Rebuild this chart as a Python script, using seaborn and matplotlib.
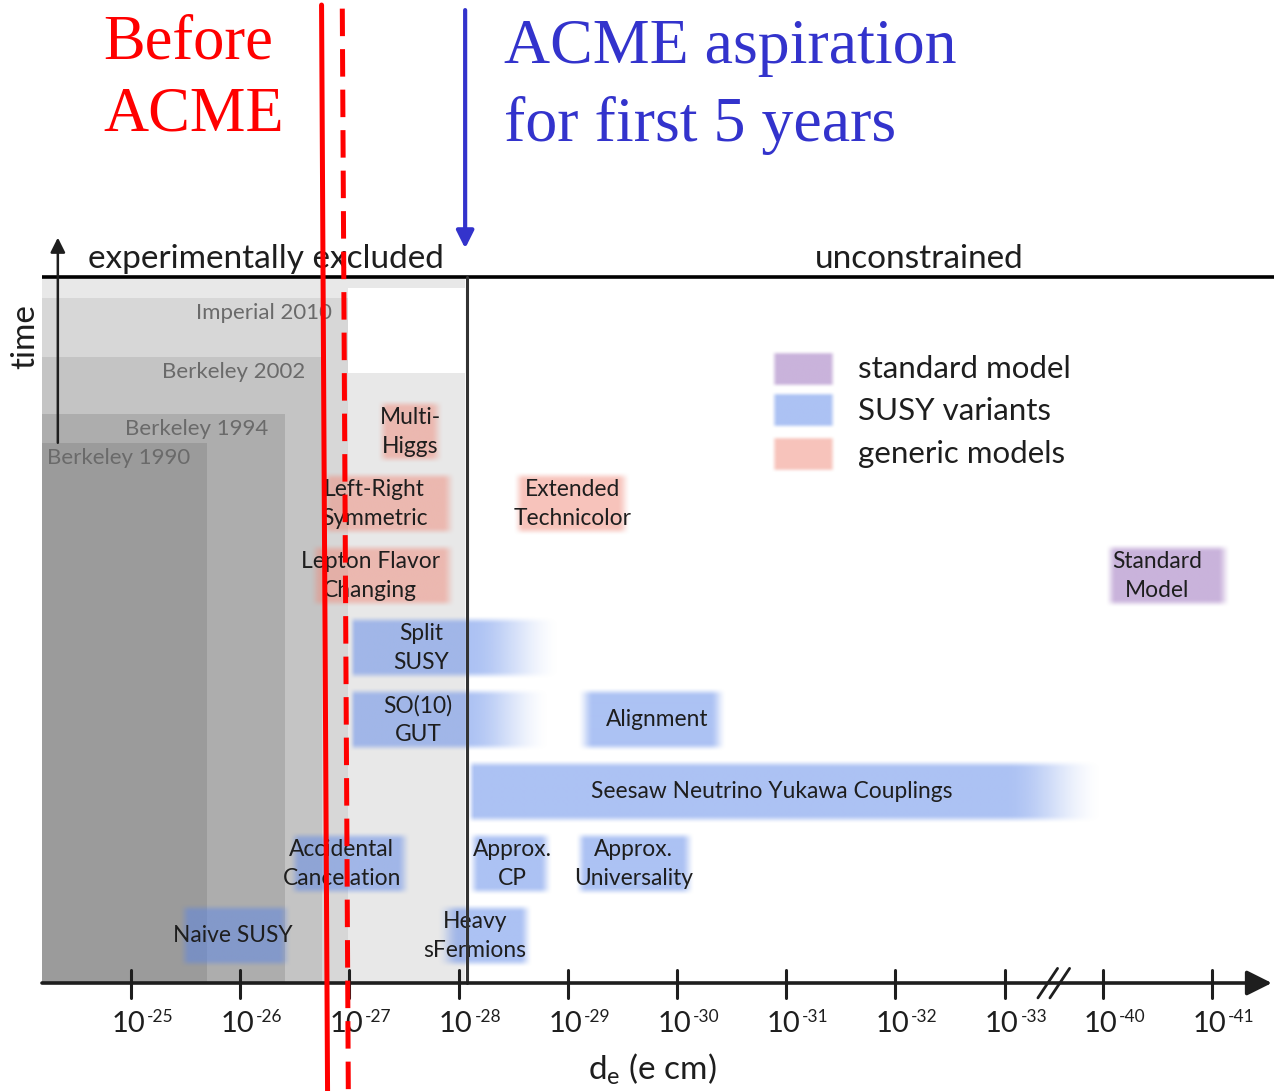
import numpy as np
import matplotlib
matplotlib.use("Agg")
import matplotlib.pyplot as plt
import matplotlib.colors as mcolors
import seaborn as sns

# ---------------- data ----------------
# experimental limits on d_e, as -log10(d_e / e cm)
exp_names = ["Berkeley 1990", "Berkeley 1994", "Berkeley 2002", "Imperial 2010"]
exp_limits = [25.70, 26.41, 26.75, 26.99]
exp_row_top = [6.85, 7.25, 8.04, 8.86]          # "time" rows
acme_goal = 28.06                                  # ACME aspiration

before_acme_solid = [26.745, 26.80]               # top / bottom of drawn line
before_acme_dashed = [26.935, 26.99]

model_names = ["Multi-\nHiggs", "Left-Right\nSymmetric", "Lepton Flavor\nChanging",
               "Extended\nTechnicolor", "Split\nSUSY", "SO(10)\nGUT", "Alignment",
               "Seesaw Neutrino Yukawa Couplings", "Accidental\nCancelation",
               "Approx.\nCP", "Approx.\nUniversality", "Naive SUSY",
               "Heavy\nsFermions", "Standard\nModel"]
model_class = ["generic", "generic", "generic", "generic", "susy", "susy", "susy",
               "susy", "susy", "susy", "susy", "susy", "susy", "sm"]
model_row = [7, 6, 5, 6, 4, 3, 3, 2, 1, 1, 1, 0, 0, 5]
model_lo = [27.25, 26.74, 26.64, 28.50, 27.00, 27.00, 29.08, 28.08, 26.45,
            28.09, 29.07, 25.44, 27.80, 40.02]
model_hi = [27.86, 27.97, 27.97, 29.58, 28.95, 28.85, 30.45, 33.92, 27.56,
            28.86, 30.16, 26.47, 28.67, 41.17]
model_label_x = [27.56, 27.23, 27.19, 29.04, 27.66, 27.63, 29.82, 30.87, 26.93,
                 28.49, 29.60, 25.93, 28.15, 40.50]

legend_classes = ["sm", "susy", "generic"]
legend_labels = ["standard model", "SUSY variants", "generic models"]

tick_exponents = [25, 26, 27, 28, 29, 30, 31, 32, 33, 40, 41]

# ---------------- styling ----------------
sns.set_theme(style="white")
plt.rcParams["font.family"] = ["Lato", "DejaVu Sans"]
plt.rcParams["mathtext.fontset"] = "custom"
plt.rcParams["mathtext.rm"] = "Lato"
plt.rcParams["mathtext.it"] = "Lato:italic"
plt.rcParams["mathtext.bf"] = "Lato:bold"

class_color = {"generic": "#f08878", "susy": "#5a85e8", "sm": "#9467b8"}
box_fade = {"Split\nSUSY": (0.06, 0.85), "SO(10)\nGUT": (0.06, 0.8),
            "Seesaw Neutrino Yukawa Couplings": (0.06, 0.9),
            "Heavy\nsFermions": (0.2, 0.12), "Alignment": (0.15, 0.15)}

BREAK_LO, BREAK_POS = 33, 8.9      # axis break: 10^-40 drawn at position 8.9
INK = "#1e1e1e"


def xpos(e):
    e = np.asarray(e, dtype=float)
    return np.where(e <= 34, e - 25, e - 40 + BREAK_POS)


def smooth(t):
    t = np.clip(t, 0, 1)
    return t * t * (3 - 2 * t)


def soft_box(ax, x0, x1, y0, y1, color, alpha=0.5, fl=0.1, fr=0.1, fy=0.1, z=2):
    nx, ny = 300, 60
    xs = np.linspace(x0, x1, nx)
    ys = np.linspace(y0, y1, ny)
    ax_ = smooth((xs - x0) / fl) * smooth((x1 - xs) / fr)
    ay_ = smooth((ys - y0) / fy) * smooth((y1 - ys) / fy)
    img = np.zeros((ny, nx, 4))
    img[..., :3] = mcolors.to_rgb(color)
    img[..., 3] = alpha * np.outer(ay_, ax_)
    ax.imshow(img, extent=[x0, x1, y0, y1], origin="lower", aspect="auto",
              interpolation="bilinear", zorder=z)


fig = plt.figure(figsize=(12.74, 10.91), dpi=100)
ax = fig.add_axes([0, 0, 1, 1])
ax.set_axis_off()

Y_AX, Y_TOP = -0.653, 9.153
X_LEFT = float(xpos(24.185))
X_RIGHT = 10.467

# ---------------- excluded regions ----------------
ax.fill_between([X_LEFT, float(xpos(acme_goal))], Y_AX, Y_TOP, color="#e8e8e8", lw=0, zorder=1)
ax.fill_between([float(xpos(exp_limits[3])), float(xpos(acme_goal))], 7.82, 9.0,
                color="white", lw=0, zorder=1.1)
gray_cols = ["#9b9b9b", "#adadad", "#c4c4c4", "#d7d7d7"]
for i in [3, 2, 1, 0]:
    ax.fill_between([X_LEFT, float(xpos(exp_limits[i]))], Y_AX, exp_row_top[i],
                    color=gray_cols[i], lw=0, zorder=1.2 + (3 - i) * 0.1)
for i, name in enumerate(exp_names):
    if i == 0:
        ax.text(X_LEFT + 0.05, exp_row_top[i] - 0.21, name, ha="left", va="center",
                fontsize=16, color="#6a6a6a", zorder=3)
    else:
        ax.text(float(xpos(exp_limits[i])) - 0.15, exp_row_top[i] - 0.21, name,
                ha="right", va="center", fontsize=16, color="#6a6a6a", zorder=3)

# ---------------- model boxes ----------------
for name, cls, row, lo, hi, lx in zip(model_names, model_class, model_row,
                                        model_lo, model_hi, model_label_x):
    fl, fr = box_fade.get(name, (0.1, 0.12))
    soft_box(ax, float(xpos(lo)), float(xpos(hi)), row - 0.45, row + 0.45,
             class_color[cls], alpha=0.5, fl=fl, fr=fr, fy=0.12)
    ax.text(float(xpos(lx)), row, name, ha="center", va="center", fontsize=16.4,
            color=INK, linespacing=1.42, zorder=3)

# ---------------- legend ----------------
leg_y = [7.875, 7.295, 6.695]
for cls, lab, yy in zip(legend_classes, legend_labels, leg_y):
    soft_box(ax, float(xpos(30.86)), float(xpos(31.45)), yy - 0.26, yy + 0.26,
             class_color[cls], alpha=0.5, fl=0.06, fr=0.06, fy=0.08)
    ax.text(float(xpos(31.66)), yy, lab, ha="left", va="center", fontsize=22.5,
            color=INK, zorder=3)

# ---------------- frame lines ----------------
ax.plot([X_LEFT, X_RIGHT], [Y_TOP, Y_TOP], color="black", lw=2.6, zorder=4,
        solid_capstyle="butt")
ax.plot([float(xpos(acme_goal)) + 0.02] * 2, [Y_AX, Y_TOP], color="#333333", lw=2.2, zorder=4)
ax.text(X_LEFT + 0.42, Y_TOP + 0.25, "experimentally excluded", ha="left", va="center",
        fontsize=24, color=INK, zorder=4)
ax.text(float(xpos(32.22)), Y_TOP + 0.25, "unconstrained", ha="center", va="center",
        fontsize=24, color=INK, zorder=4)

# time arrow
ax.annotate("", xy=(float(xpos(24.33)), 9.70), xytext=(float(xpos(24.33)), 6.85),
            arrowprops=dict(arrowstyle="-|>", color=INK, lw=1.8,
                            mutation_scale=22, shrinkA=0, shrinkB=0), zorder=4)
ax.text(float(xpos(24.03)), 8.32, "time", rotation=90, ha="center", va="center",
        fontsize=24, color=INK)

# x axis with arrow
ax.annotate("", xy=(X_RIGHT - 0.02, Y_AX), xytext=(X_LEFT, Y_AX),
            arrowprops=dict(arrowstyle="-|>", color=INK, lw=2.6,
                            mutation_scale=38, shrinkA=0, shrinkB=0), zorder=4)
for e in tick_exponents:
    xp = float(xpos(e))
    ax.plot([xp, xp], [-0.86, -0.47], color=INK, lw=2.2, zorder=4)
    ax.text(xp + 0.13, -1.333, "10", ha="right", va="baseline",
            fontsize=21, color=INK, zorder=4)
    ax.text(xp + 0.145, -1.19, "-%d" % e, ha="left", va="baseline",
            fontsize=12.5, color=INK, zorder=4)
bx = (float(xpos(BREAK_LO)) + BREAK_POS) / 2
for dx in (-0.055, 0.055):
    ax.plot([bx + dx - 0.09, bx + dx + 0.09], [-0.86, -0.45], color=INK, lw=2.0, zorder=4.5)
ax.text(float(xpos(29.77)), -1.86, r"d$_\mathregular{e}$ (e cm)", ha="center", va="center",
        fontsize=24, color=INK)

# ---------------- ACME annotations ----------------
Y_BOT, Y_FIG_TOP = -2.153, 12.93
ax.plot(xpos(before_acme_solid), [Y_FIG_TOP, Y_BOT], color="red", lw=3.6, zorder=6)
ax.plot(xpos(before_acme_dashed), [Y_FIG_TOP - 0.05, Y_BOT], color="red", lw=3.6,
        dashes=(5.5, 2.6), zorder=6)
ax.annotate("", xy=(float(xpos(acme_goal)), 9.55), xytext=(float(xpos(acme_goal)), 12.86),
            arrowprops=dict(arrowstyle="-|>", color="#3333cc", lw=3.0,
                            mutation_scale=26, shrinkA=0, shrinkB=0), zorder=6)
serif = ["Liberation Serif", "DejaVu Serif"]
ax.text(float(xpos(24.745)), 12.40, "Before", ha="left", va="center", fontsize=45,
        color="red", family=serif)
ax.text(float(xpos(24.745)), 11.40, "ACME", ha="left", va="center", fontsize=45,
        color="red", family=serif)
ax.text(float(xpos(28.42)), 12.33, "ACME aspiration", ha="left", va="center",
        fontsize=46, color="#3333cc", family=serif)
ax.text(float(xpos(28.42)), 11.26, "for first 5 years", ha="left", va="center",
        fontsize=46, color="#3333cc", family=serif)

ax.set_xlim(-1.1996, 10.467)
ax.set_ylim(-2.153, 13.0)
fig.savefig("out.png", dpi=100)
